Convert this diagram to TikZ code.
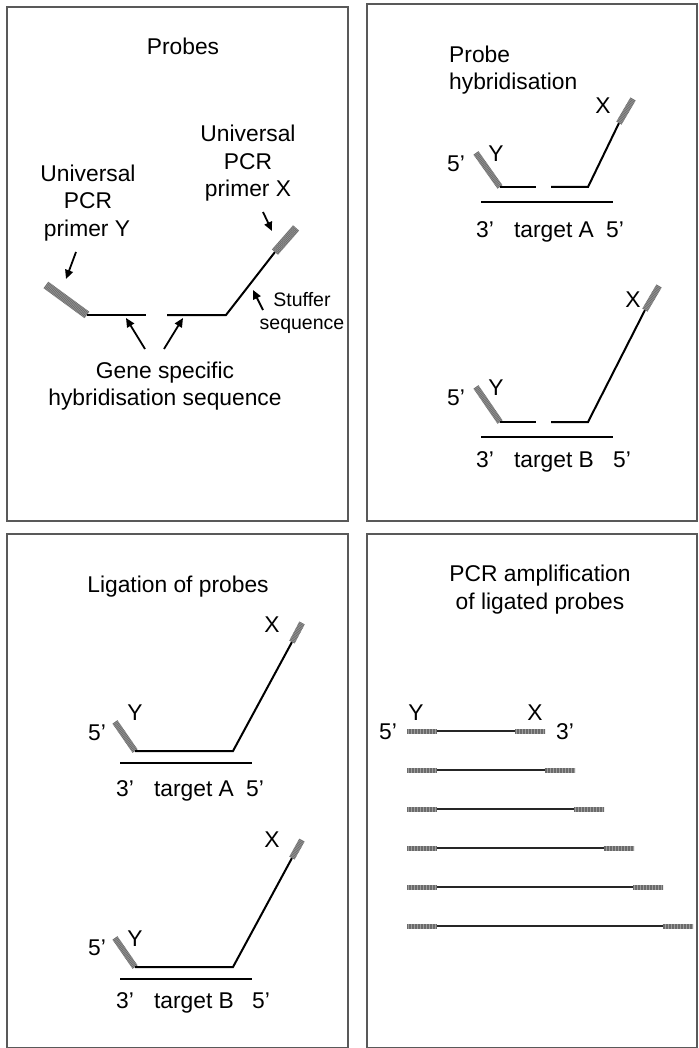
\documentclass[tikz,border=0pt]{standalone}
\usepackage{fontspec}
\setmainfont{Liberation Sans}
\usetikzlibrary{arrows.meta}
\begin{document}
\begin{tikzpicture}[x=1pt,y=-1pt,
 panel/.style={draw=black!65, line width=1.2pt},
 strand/.style={line width=2pt, line join=miter},
 thinstrand/.style={line width=1.1pt, black!85},
 primer/.style={draw=black!38, line width=#1, postaction={draw=black!58, line width=#1, dash pattern=on 0.7pt off 0.8pt}},
 arr/.style={line width=1.8pt, -{Triangle[length=9pt,width=8pt]}},
 lbl/.style={font=\fontsize{22.8}{27}\selectfont, inner sep=0pt, text height=16.3pt, text depth=0pt},
 sml/.style={font=\fontsize{19.5}{23}\selectfont, inner sep=0pt, text height=14pt, text depth=0pt},
]
\useasboundingbox (0,0) rectangle (698,1048);
\fill[white] (0,0) rectangle (698,1048);

% ---------- panels ----------
\draw[panel] (7,7) rectangle (348,521);
\draw[panel] (367,4) rectangle (697,521);
\draw[panel] (7,534) rectangle (348,1047.5);
\draw[panel] (367,534) rectangle (697,1047.5);

% ---------- Panel 1: Probes ----------
\node[lbl] (t1) at (183,46) {Probes};
\node[lbl] (uy1) at (88,173) {Universal};
\node[lbl] (uy2) at (88,200) {PCR};
\node[lbl] (uy3) at (87,228) {primer Y};
\node[lbl] (ux1) at (248,133) {Universal};
\node[lbl] (ux2) at (248,161) {PCR};
\node[lbl] (ux3) at (248,188) {primer X};
\node[sml] (st1) at (302,299) {Stuffer};
\node[sml] (st2) at (302,322) {sequence};
\node[lbl] (gs1) at (165,370) {Gene specific};
\node[lbl] (gs2) at (165,397) {hybridisation sequence};

\coordinate (p1ya) at (46,285);
\coordinate (p1yb) at (87,315);
\coordinate (p1l) at (146,315);
\coordinate (p1r) at (167,315);
\coordinate (p1k) at (226,315);
\coordinate (p1xa) at (275,252);
\coordinate (p1xb) at (296,228);
\draw[primer=8pt] (p1ya) -- (p1yb);
\draw[strand] (p1yb) -- (p1l);
\draw[strand] (p1r) -- (p1k) -- (p1xa);
\draw[primer=8pt] (p1xa) -- (p1xb);

\coordinate (a1s) at (76,252); \coordinate (a1e) at (66,279);
\coordinate (a2s) at (263,212); \coordinate (a2e) at (272,231);
\coordinate (a3s) at (263,310); \coordinate (a3e) at (253,290);
\coordinate (a4s) at (145,349); \coordinate (a4e) at (126,318);
\coordinate (a5s) at (164,349); \coordinate (a5e) at (183,318);
\draw[arr] (a1s) -- (a1e);
\draw[arr] (a2s) -- (a2e);
\draw[arr] (a3s) -- (a3e);
\draw[arr] (a4s) -- (a4e);
\draw[arr] (a5s) -- (a5e);

% ---------- Panel 2: Probe hybridisation ----------
\node[lbl, anchor=west] (t2a) at (449,54) {Probe};
\node[lbl, anchor=west] (t2b) at (449,81) {hybridisation};

% top probe (target A)
\node[lbl] (h5a) at (456,163) {5’};
\node[lbl] (hya) at (496,153) {Y};
\node[lbl] (hxa) at (603,105) {X};
\coordinate (hyaa) at (476,153);
\coordinate (hyab) at (500,187);
\coordinate (hla) at (536,187);
\coordinate (hra) at (551,187);
\coordinate (hka) at (588,187);
\coordinate (hxaa) at (619,123);
\coordinate (hxab) at (633,99);
\draw[primer=6pt] (hyaa) -- (hyab);
\draw[strand] (hyab) -- (hla);
\draw[strand] (hra) -- (hka) -- (hxaa);
\draw[primer=6pt] (hxaa) -- (hxab);
\coordinate (hta1) at (481,202);
\coordinate (hta2) at (613,202);
\draw[strand] (hta1) -- (hta2);
\node[lbl] (h3a) at (485,229) {3’};
\node[lbl] (htA) at (554,229) {target A};
\node[lbl] (h5a2) at (615,229) {5’};

% bottom probe (target B)
\node[lbl] (h5b) at (456,397) {5’};
\node[lbl] (hyb) at (496,387) {Y};
\node[lbl] (hxb) at (633,299) {X};
\coordinate (hyba) at (476,387);
\coordinate (hybb) at (500,422);
\coordinate (hlb) at (536,422);
\coordinate (hrb) at (551,422);
\coordinate (hkb) at (588,422);
\coordinate (hxba) at (645,310);
\coordinate (hxbb) at (659,286);
\draw[primer=6pt] (hyba) -- (hybb);
\draw[strand] (hybb) -- (hlb);
\draw[strand] (hrb) -- (hkb) -- (hxba);
\draw[primer=6pt] (hxba) -- (hxbb);
\coordinate (htb1) at (481,437);
\coordinate (htb2) at (613,437);
\draw[strand] (htb1) -- (htb2);
\node[lbl] (h3b) at (485,459) {3’};
\node[lbl] (htB) at (554,459) {target B};
\node[lbl] (h5b2) at (622,459) {5’};

% ---------- Panel 3: Ligation of probes ----------
\node[lbl] (t3) at (178,584) {Ligation of probes};

% top (target A)
\node[lbl] (l5a) at (97,732) {5’};
\node[lbl] (lya) at (135,712) {Y};
\node[lbl] (lxa) at (272,624) {X};
\coordinate (lyaa) at (115,722);
\coordinate (lyab) at (135,751);
\coordinate (lka) at (233,751);
\coordinate (lxaa) at (292,642);
\coordinate (lxab) at (302,623);
\draw[primer=6pt] (lyaa) -- (lyab);
\draw[strand] (lyab) -- (lka) -- (lxaa);
\draw[primer=6pt] (lxaa) -- (lxab);
\coordinate (lta1) at (120,763);
\coordinate (lta2) at (252,763);
\draw[strand] (lta1) -- (lta2);
\node[lbl] (l3a) at (125,788) {3’};
\node[lbl] (ltA) at (194,788) {target A};
\node[lbl] (l5a2) at (255,788) {5’};

% bottom (target B)
\node[lbl] (l5b) at (97,947) {5’};
\node[lbl] (lyb) at (135,938) {Y};
\node[lbl] (lxb) at (272,839) {X};
\coordinate (lyba) at (115,938);
\coordinate (lybb) at (135,967);
\coordinate (lkb) at (233,967);
\coordinate (lxba) at (292,858);
\coordinate (lxbb) at (302,840);
\draw[primer=6pt] (lyba) -- (lybb);
\draw[strand] (lybb) -- (lkb) -- (lxba);
\draw[primer=6pt] (lxba) -- (lxbb);
\coordinate (ltb1) at (120,979);
\coordinate (ltb2) at (252,979);
\draw[strand] (ltb1) -- (ltb2);
\node[lbl] (l3b) at (125,1000) {3’};
\node[lbl] (ltB) at (194,1000) {target B};
\node[lbl] (l5b2) at (261,1000) {5’};

% ---------- Panel 4: PCR amplification ----------
\node[lbl] (t4a) at (540,573) {PCR amplification};
\node[lbl] (t4b) at (540,601) {of ligated probes};
\node[lbl] (a5) at (388,731) {5’};
\node[lbl] (a3) at (565,731) {3’};
\node[lbl] (ay) at (416,712) {Y};
\node[lbl] (ax) at (535,712) {X};

\foreach \i/\yy in {0/731,1/770,2/809,3/848,4/887,5/926}{
  \coordinate (ra\i) at (407,\yy);
  \coordinate (rb\i) at (436,\yy);
  \coordinate (rc\i) at ({515+29.5*\i},\yy);
  \coordinate (rd\i) at ({545+29.5*\i},\yy);
  \draw[thinstrand] (rb\i) -- (rc\i);
  \draw[primer=5pt] (ra\i) -- (rb\i);
  \draw[primer=5pt] (rc\i) -- (rd\i);
}
\end{tikzpicture}
\end{document}
